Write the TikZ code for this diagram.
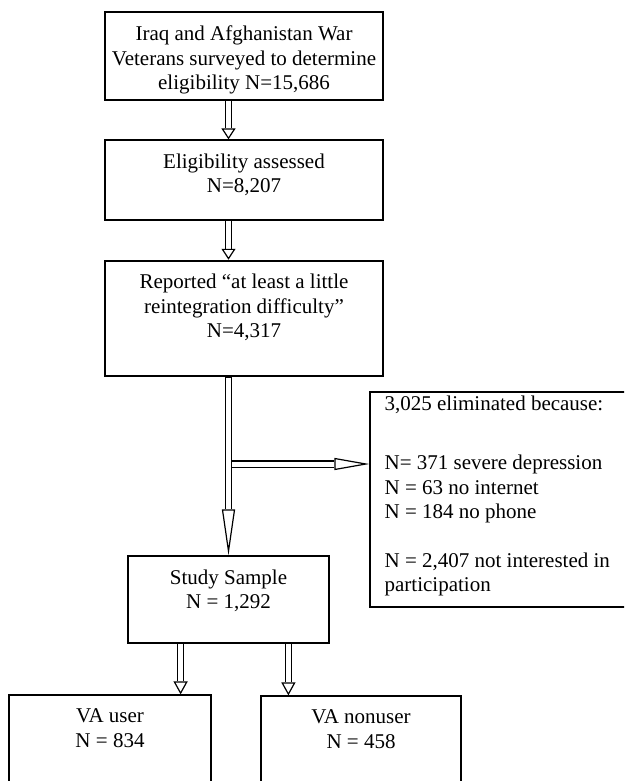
\documentclass[tikz,border=0pt]{standalone}
\usepackage{fontspec}
\setmainfont{Liberation Serif}
\usetikzlibrary{arrows.meta}
\tikzstyle{every node}=[font=\fontsize{21}{24.3}\selectfont]
\tikzstyle{box}=[draw, line width=1.2pt, minimum width=278pt, inner sep=0pt]
\tikzstyle{txt}=[anchor=north, align=center, yshift=-11pt]
\tikzstyle{lst}=[anchor=north west, align=left, inner sep=0pt, xshift=15pt, yshift=-4pt]
\tikzset{fat/.style 2 args={draw, line width=7.4pt, shorten >=#1,
    postaction={draw=white, line width=5pt, shorten >=0pt, shorten <=0.6pt,
      -{Triangle[open, length=#1, width=#2, line width=1.2pt, color=black]}}}}

\begin{document}
\begin{tikzpicture}[x=1pt, y=-1pt]
    \path[use as bounding box, clip] (0,0) rectangle (624,781);
% Boxes
    \node[box, minimum height=88pt,
      label={[txt]north:{Iraq and Afghanistan War\\Veterans surveyed to determine\\eligibility N=15,686}}]
      (survey) at (244,56) {};
    \node[box, minimum height=80pt,
      label={[txt]north:{Eligibility assessed\\N=8,207}}]
      (eligible) at (244,180) {};
    \node[box, line width=2.5pt, minimum height=115pt,
      label={[txt]north:{Reported “at least a little\\reintegration difficulty”\\N=4,317}}]
      (reported) at (244,318.5) {};
    \node[box, minimum width=270pt, minimum height=215pt,
      label={[lst]north west:{3,025 eliminated because:\\[35.5pt]N= 371 severe depression\\N = 63 no internet\\N = 184 no phone\\[24.5pt]N = 2,407 not interested in\\participation}}]
      (elim) at (505,499.5) {};
    \node[box, minimum width=201pt, minimum height=87pt,
      label={[txt]north:{Study Sample\\N = 1,292}}]
      (sample) at (228.5,599.5) {};
    \node[box, minimum width=202pt, minimum height=120pt,
      label={[txt]north:{VA user\\N = 834}}]
      (user) at (110,755) {};
    \node[box, minimum width=200pt, minimum height=120pt,
      label={[txt]north:{VA nonuser\\N = 458}}]
      (nonuser) at (361,756) {};
% Arrows
    \coordinate (split) at (231.6,464);
    \coordinate (userin) at ([xshift=-31pt]user.north east);
    \coordinate (nonuserin) at ([xshift=28pt]nonuser.north west);
    \draw[fat={11pt}{14pt}] (survey.south -| sample.north) -- (eligible.north -| sample.north);
    \draw[fat={11pt}{14pt}] (eligible.south -| sample.north) -- (reported.north -| sample.north);
    \draw[fat={46pt}{13pt}] (reported.south -| sample.north) -- (sample.north);
    \draw[fat={35pt}{12pt}] (split) -- (split -| elim.west);
    \draw[fat={13pt}{14pt}] (sample.south -| userin) -- (userin);
    \draw[fat={13pt}{14pt}] (sample.south -| nonuserin) -- (nonuserin);
\end{tikzpicture}
\end{document}
